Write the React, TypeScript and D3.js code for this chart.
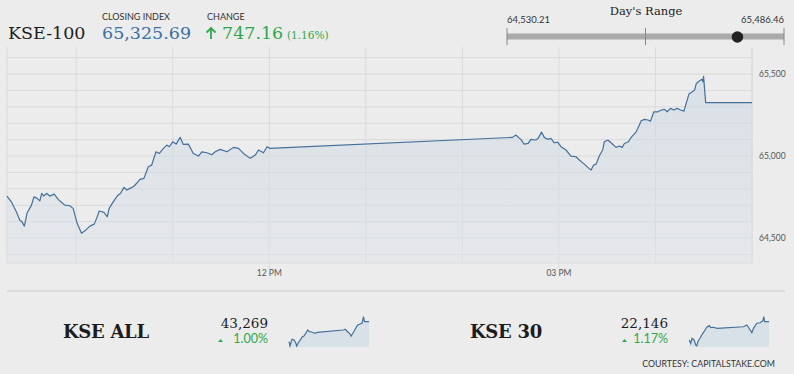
import React from "react";
import * as d3 from "d3";

// ---------- DATA ----------
// minutes after 09:00 and KSE-100 index level
const mainMinutes = [17,19.7,22.8,24.9,26.3,27.8,29.4,32.2,33.8,35.7,37.4,38.6,39.9,41.5,43.6,46.3,48.8,51.5,52.9,56,58.1,60.6,63.3,65.4,68.5,71.2,72.7,74.3,77.2,79.3,80.5,83,85.5,87.6,89.7,91.4,93.4,95.5,97.6,99.6,102.1,104.8,106.9,109.6,111.7,114.2,116.3,117.9,120,122.1,124.6,126.6,129.7,132.8,136,138.1,141.2,144.3,146.4,149.5,153.7,157.8,160.9,164,168.2,171.3,173.3,176.4,178.6,180.2,331.2,333.2,336.3,338.4,340.9,342.6,345.7,347.1,349.2,350.9,353,355,357.1,359.2,361.3,364.4,367.5,370.6,372.7,375.8,377.9,380,381.6,383.1,385.1,387.2,388.2,390.4,392.4,395.5,397.6,399.3,400.7,403.2,404.9,408,410,411.1,413.2,415.3,416.9,419,421.5,423.6,425.6,427.3,429.4,431.5,433.5,435.6,437.7,439.1,440.8,442.9,444.3,445.4,447.4,448.9,449.5,449.9,451.2,480];
const mainValues = [64756,64721,64660,64610,64599,64573,64651,64701,64752,64742,64727,64773,64756,64773,64756,64768,64736,64712,64701,64697,64681,64590,64530,64544,64573,64585,64620,64665,64657,64630,64681,64721,64756,64773,64809,64793,64803,64813,64834,64858,64864,64935,64945,65026,65016,65047,65067,65057,65087,65073,65114,65071,65073,65016,65000,65026,65020,65008,65026,65041,65026,65053,65047,65016,64986,65006,65037,65020,65057,65047,65114,65128,65102,65073,65077,65102,65098,65108,65146,65114,65102,65108,65081,65085,65057,65037,65000,64996,64976,64951,64931,64915,64945,64951,65000,65037,65087,65098,65081,65053,65061,65053,65077,65087,65114,65148,65189,65215,65224,65220,65213,65270,65270,65281,65285,65270,65291,65281,65291,65281,65274,65321,65378,65392,65402,65443,65459,65468,65453,65486,65325.69,65325.69];

const allMinutes = [17,22.8,34.4,46,55.9,61.7,70.9,84.9,94.1,104,115.6,125.5,134.7,148.7,157.9,167.8,180,331.9,341.8,351.7,366.7,376.6,386.5,399.8,413.1,428.8,438.7,444.5,448,453.8,480];
const allValues = [42886,42804,42932,42919,42867,42804,42867,42932,42982,42995,43058,43110,43077,43072,43058,43047,43066,43110,43123,43091,43047,42995,43047,43123,43200,43224,43238,43301,43364,43268,43269];

const k30Minutes = [18.7,26.9,34.4,46,55.9,61.7,70.9,80.8,90.7,104,119.7,134.7,142.9,158,180,332,351.7,361,370.8,380.7,390,409.7,428.8,444.5,450,454,480];
const k30Values = [21940,21902,21959,21940,21883,21872,21932,21959,21996,22033,22083,22101,22078,22083,22071,22089,22109,22083,22052,22022,22071,22128,22134,22157,22202,22146,22146];

const yTicks = [64500, 65000, 65500];
const xLabelHours = [12, 15];
const xLabels = ["12 PM", "03 PM"];

const closingIndex = "65,325.69";
const change = "747.16";
const changePct = "(1.16%)";
const dayLow = 64530.21;
const dayHigh = 65486.46;
const dayLowLabel = "64,530.21";
const dayHighLabel = "65,486.46";

const subNames = ["KSE ALL", "KSE 30"];
const subValues = ["43,269", "22,146"];
const subPcts = ["1.00%", "1.17%"];

// ---------- HELPERS ----------
const toDate = (m: number) => new Date(2021, 0, 4, 9, 0, 0, Math.round(m * 60000));
const zip = (ms: number[], vs: number[]) =>
  ms.slice(0, Math.min(ms.length, vs.length)).map((m, i) => ({ t: toDate(m), v: vs[i] }));

const BG = "#ececec";
const GRID = "#dadada";
const LINE = "#44709c";
const GREEN = "#2ea84a";
const SERIF = "'DejaVu Serif', serif";
const SANS = "Lato, 'Open Sans', sans-serif";

function Spark({ minutes, values, x0, x1 }: { minutes: number[]; values: number[]; x0: number; x1: number }) {
  const data = zip(minutes, values);
  const xs = d3.scaleTime().domain([toDate(17), toDate(480)]).range([x0, x1]);
  const ys = d3.scaleLinear().domain(d3.extent(values) as [number, number]).range([346, 316.7]);
  const area = d3.area<any>().x((d) => xs(d.t)).y0(347).y1((d) => ys(d.v));
  const line = d3.line<any>().x((d) => xs(d.t)).y((d) => ys(d.v));
  return (
    <g>
      <path d={area(data) || ""} fill="#d8e0e8" />
      <path d={line(data) || ""} fill="none" stroke={LINE} strokeWidth={1.2} />
    </g>
  );
}

export default function App() {
  const data = zip(mainMinutes, mainValues);
  const L = 7, R = 752, T = 47, B = 263;
  const x = d3.scaleTime().domain([toDate(17), toDate(480)]).range([L, R]);
  const y = d3.scaleLinear().domain([64348, 65665]).range([B, T]);
  const hourTicks = x.ticks(d3.timeHour.every(1) as any);
  const gridVals = d3.range(64400, 65601, 100);
  const area = d3.area<any>().x((d) => x(d.t)).y0(B).y1((d) => y(d.v));
  const line = d3.line<any>().x((d) => x(d.t)).y((d) => y(d.v));

  const rx = d3.scaleLinear().domain([dayLow, dayHigh]).range([507, 784]);
  const lastVal = mainValues[mainValues.length - 1];

  return (
    <svg width={794} height={374} style={{ position: "absolute", left: 0, top: 0, display: "block" }}>
      <defs>
        <linearGradient id="fillg" x1="0" y1="0" x2="0" y2="1">
          <stop offset="0%" stopColor="#c9d6e3" stopOpacity={0.55} />
          <stop offset="100%" stopColor="#dfe3e8" stopOpacity={0.5} />
        </linearGradient>
      </defs>
      <rect x={0} y={0} width={794} height={374} fill={BG} />

      {/* Header */}
      <text x={8} y={39} fontFamily={SERIF} fontSize={17.5} fill="#1c1c1c">KSE-100</text>
      <text x={102} y={20} fontFamily={SANS} fontSize={9} fill="#333">CLOSING INDEX</text>
      <text x={102} y={39} fontFamily={SERIF} fontSize={17.5} fill="#3a6ea5">{closingIndex}</text>
      <text x={207} y={20} fontFamily={SANS} fontSize={9} fill="#333">CHANGE</text>
      <path d="M211,39 L211,28 M206.5,32.5 L211,28 L215.5,32.5" fill="none" stroke={GREEN} strokeWidth={1.8} />
      <text x={222} y={39} fontFamily={SERIF} fontSize={17.5} fill={GREEN}>{change}</text>
      <text x={287} y={38.5} fontFamily={SERIF} fontSize={10.5} fill={GREEN}>{changePct}</text>

      {/* Day's range */}
      <text x={646} y={15} textAnchor="middle" fontFamily={SERIF} fontSize={11.5} fill="#222">Day's Range</text>
      <text x={507} y={23} fontFamily={SANS} fontSize={9.5} fill="#333">{dayLowLabel}</text>
      <text x={784} y={23} textAnchor="end" fontFamily={SANS} fontSize={9.5} fill="#333">{dayHighLabel}</text>
      <line x1={rx(dayLow)} x2={rx(dayHigh)} y1={36.5} y2={36.5} stroke="#aaaaaa" strokeWidth={6} />
      {[dayLow, (dayLow + dayHigh) / 2, dayHigh].map((v, i) => (
        <line key={i} x1={rx(v)} x2={rx(v)} y1={28} y2={45} stroke="#888" strokeWidth={1} />
      ))}
      <circle cx={rx(lastVal)} cy={37} r={5.8} fill="#222" />

      {/* Grid */}
      {gridVals.map((v) => (
        <line key={"h" + v} x1={L} x2={R + 1} y1={y(v)} y2={y(v)} stroke={GRID} strokeWidth={1} />
      ))}
      {hourTicks.map((t, i) => {
        const h = t.getHours();
        const labeled = xLabelHours.includes(h);
        return (
          <line key={"v" + i} x1={x(t)} x2={x(t)} y1={T} y2={labeled ? B + 5 : B} stroke={GRID} strokeWidth={1} />
        );
      })}
      <line x1={L} x2={L} y1={T} y2={B} stroke={GRID} strokeWidth={1} />
      <line x1={R} x2={R} y1={T} y2={B} stroke={GRID} strokeWidth={1} />
      <line x1={L} x2={R} y1={B} y2={B} stroke={GRID} strokeWidth={1} />

      {/* Area + line */}
      <path d={area(data) || ""} fill="url(#fillg)" />
      <path d={line(data) || ""} fill="none" stroke={LINE} strokeWidth={1.2} strokeLinejoin="round" />

      {/* Axis labels */}
      {yTicks.map((v) => (
        <text key={"yl" + v} x={759} y={y(v) + 3} fontFamily={SANS} fontSize={8.5} fill="#555">
          {d3.format(",")(v)}
        </text>
      ))}
      {xLabelHours.map((h, i) => (
        <text key={"xl" + h} x={x(new Date(2021, 0, 4, h, 0))} y={276} textAnchor="middle" fontFamily={SANS} fontSize={8.5} fill="#555">
          {xLabels[i]}
        </text>
      ))}

      {/* Divider */}
      <line x1={7} x2={785} y1={291} y2={291} stroke="#cccccc" strokeWidth={1} />

      {/* Sub indices */}
      {[0, 1].map((i) => {
        const ox = i * 400;
        return (
          <g key={"sub" + i}>
            <text x={(i === 0 ? 63 : 470)} y={338} fontFamily={SERIF} fontWeight="bold" fontSize={18} letterSpacing={-0.3} fill="#1c1c1c">
              {subNames[i]}
            </text>
            <text x={268 + ox} y={328} textAnchor="end" fontFamily={SERIF} fontSize={13.5} fill="#1c1c1c">
              {subValues[i]}
            </text>
            <path d={`M${(i === 0 ? 218 : 622)},342 L${(i === 0 ? 220.5 : 624.5)},339 L${(i === 0 ? 223 : 627)},342 Z`} fill={GREEN} />
            <text x={268 + ox} y={343} textAnchor="end" fontFamily={SANS} fontSize={12.5} fill={GREEN}>
              {subPcts[i]}
            </text>
          </g>
        );
      })}
      <Spark minutes={allMinutes} values={allValues} x0={289} x1={369} />
      <Spark minutes={k30Minutes} values={k30Values} x0={689} x1={769} />

      <text x={775} y={367} textAnchor="end" fontFamily={SANS} fontSize={8.8} fill="#333">
        COURTESY: CAPITALSTAKE.COM
      </text>
    </svg>
  );
}
